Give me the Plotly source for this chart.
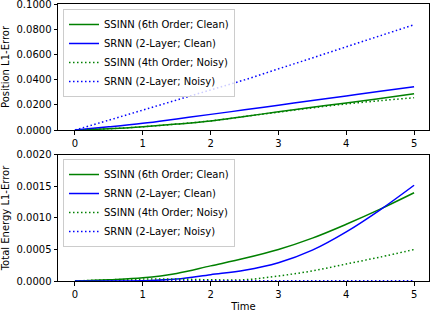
import plotly.graph_objects as go

time = [0, 0.5, 1, 1.5, 2, 2.5, 3, 3.5, 4, 4.5, 5]

# Position L1-error
pos_ssinn_clean = [0, 0.0010, 0.0026, 0.0047, 0.0072, 0.0108, 0.0144, 0.0180, 0.0215, 0.0250, 0.0287]
pos_srnn_clean = [0, 0.0025, 0.0053, 0.0088, 0.0124, 0.0160, 0.0197, 0.0234, 0.0270, 0.0307, 0.0344]
pos_ssinn_noisy = [0, 0.0010, 0.0026, 0.0047, 0.0072, 0.0107, 0.0142, 0.0176, 0.0207, 0.0233, 0.0256]
pos_srnn_noisy = [0, 0.0078, 0.0158, 0.0238, 0.0318, 0.0398, 0.0485, 0.0572, 0.0660, 0.0748, 0.0836]

# Total energy L1-error
en_ssinn_clean = [0, 0.00002, 0.00005, 0.00012, 0.00024, 0.00036, 0.00050, 0.00068, 0.00090, 0.00114, 0.00140]
en_srnn_clean = [0, 0.0, 0.000005, 0.00003, 0.00010, 0.00017, 0.00029, 0.00049, 0.00078, 0.00113, 0.00152]
en_ssinn_noisy = [0, 0.00002, 0.00003, 0.00003, 0.00002, 0.00002, 0.00008, 0.00016, 0.00027, 0.00038, 0.00050]
en_srnn_noisy = [0, 0.000002, 0.000002, 0.000003, 0.000003, 0.000003, 0.000004, 0.000004, 0.000004, 0.000005, 0.000005]

labels = ["SSINN (6th Order; Clean)", "SRNN (2-Layer; Clean)",
          "SSINN (4th Order; Noisy)", "SRNN (2-Layer; Noisy)"]
colors = ["#008000", "#0000ff", "#008000", "#0000ff"]
dashes = ["solid", "solid", "1.5px,2.5px", "1.5px,2.5px"]

fig = go.Figure()
top = [pos_ssinn_clean, pos_srnn_clean, pos_ssinn_noisy, pos_srnn_noisy]
bot = [en_ssinn_clean, en_srnn_clean, en_ssinn_noisy, en_srnn_noisy]
for i in range(4):
    fig.add_trace(go.Scatter(x=time, y=top[i], mode="lines", name=labels[i],
                             line=dict(color=colors[i], width=1.5, dash=dashes[i], shape="spline"),
                             xaxis="x", yaxis="y", legend="legend"))
for i in range(4):
    fig.add_trace(go.Scatter(x=time, y=bot[i], mode="lines", name=labels[i],
                             line=dict(color=colors[i], width=1.5, dash=dashes[i], shape="spline"),
                             xaxis="x2", yaxis="y2", legend="legend2"))

font = dict(family="DejaVu Sans", size=10, color="black")
axis_common = dict(showline=True, linecolor="black", linewidth=1, mirror=True,
                   ticks="outside", ticklen=3.5, tickwidth=1, tickcolor="black",
                   showgrid=False, zeroline=False, tickfont=font, automargin=False,
                   ticklabeloverflow="allow")

legend_common = dict(bgcolor="rgba(255,255,255,0.8)", bordercolor="#cccccc", borderwidth=1,
                     font=font, xanchor="left", yanchor="top", itemwidth=30,
                     tracegroupgap=0)

fig.update_layout(
    width=432, height=312,
    margin=dict(l=58, r=3, t=4, b=31),
    paper_bgcolor="white", plot_bgcolor="white",
    font=font,
    xaxis=dict(domain=[0, 1], range=[-0.25, 5.22], dtick=1, anchor="y", **axis_common),
    yaxis=dict(domain=[0.5451, 1], range=[0, 0.1], dtick=0.02, tickformat=".4f",
               title=dict(text="Position L1-Error", font=font), anchor="x", **axis_common),
    xaxis2=dict(domain=[0, 1], range=[-0.25, 5.22], dtick=1, anchor="y2",
                title=dict(text="Time", font=font), **axis_common),
    yaxis2=dict(domain=[0, 0.4549], range=[0, 0.002], dtick=0.0005, tickformat=".4f",
                title=dict(text="Total Energy L1-Error", font=font), anchor="x2", **axis_common),
    legend=dict(x=0.0135, y=0.982, **legend_common),
    legend2=dict(x=0.0135, y=0.4404, **legend_common),
    showlegend=True,
)

fig.write_html("out.html", config={"displayModeBar": False},
               post_script="document.body.style.margin='0';document.body.style.padding='0';")
